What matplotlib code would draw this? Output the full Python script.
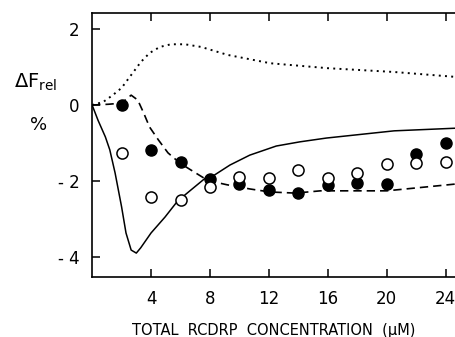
import numpy as np
import matplotlib
matplotlib.use("Agg")
import matplotlib.pyplot as plt

plt.rcParams['font.family'] = ['Liberation Sans Narrow', 'DejaVu Sans']

# measured points (total RCDRP concentration in uM, relative fluorescence change in %)
conc = [2, 4, 6, 8, 10, 12, 14, 16, 18, 20, 22, 24]
filled = [0.0, -1.18, -1.5, -1.95, -2.08, -2.24, -2.32, -2.1, -2.05, -2.08, -1.29, -1.0]
opened = [-1.26, -2.42, -2.5, -2.16, -1.89, -1.92, -1.72, -1.92, -1.79, -1.55, -1.53, -1.5]

# model curves
dot_x = [0, 0.75, 1.4, 2.0, 2.4, 2.9, 3.3, 3.9, 4.6, 5.35, 6.3, 7.4, 9.2, 12.1, 16, 20.5, 24.7]
dot_y = [0, 0.08, 0.26, 0.45, 0.66, 0.92, 1.13, 1.37, 1.53, 1.6, 1.6, 1.53, 1.32, 1.1, 0.97, 0.87, 0.74]

sol_x = [0, 0.4, 0.9, 1.2, 1.56, 2.0, 2.3, 2.65, 3.0, 3.3, 4.0, 4.95, 5.8, 6.7, 7.7, 8.0,
         9.36, 10.7, 12.5, 14.1, 15.9, 20.5, 24.7]
sol_y = [0, -0.4, -0.84, -1.18, -1.79, -2.68, -3.37, -3.82, -3.9, -3.76, -3.37, -2.95, -2.53,
         -2.24, -1.92, -1.92, -1.58, -1.32, -1.08, -0.97, -0.87, -0.68, -0.61]

dash_x = [0, 1.1, 2.0, 2.65, 3.1, 3.5, 3.9, 4.5, 5.15, 5.96, 6.7, 7.7, 8.0, 9.15, 10.7,
          12.07, 13.8, 15.5, 20, 24.7]
dash_y = [0, 0.02, 0.05, 0.26, 0.13, -0.21, -0.58, -0.92, -1.26, -1.53, -1.71, -1.95, -2.0,
          -2.1, -2.21, -2.29, -2.32, -2.26, -2.26, -2.08]

xticks = [4, 8, 12, 16, 20, 24]
yticks = [2, 0, -2, -4]
ytick_labels = ["2", "0", "- 2", "- 4"]

fig = plt.figure(figsize=(4.56, 3.37), dpi=100)
ax = fig.add_axes([0.202, 0.178, 0.798, 0.783])

ax.plot(dot_x, dot_y, color='black', lw=1.4, linestyle=(0, (1, 2.2)))
ax.plot(sol_x, sol_y, color='black', lw=1.1)
ax.plot(dash_x, dash_y, color='black', lw=1.2, linestyle=(0, (5, 3)))
ax.plot(conc, filled, 'o', color='black', ms=8, zorder=3)
ax.plot(conc, opened, 'o', mfc='white', mec='black', mew=1.1, ms=8, zorder=3)

ax.set_xlim(0, 24.7)
ax.set_ylim(-4.53, 2.42)
ax.set_xticks(xticks)
ax.set_yticks(yticks)
ax.set_yticklabels(ytick_labels)
ax.spines['right'].set_visible(False)
for s in ['left', 'top', 'bottom']:
    ax.spines[s].set_linewidth(1.2)
ax.tick_params(axis='both', direction='in', length=6, width=1.1, labelsize=12, pad=9)
ax.tick_params(axis='x', top=True)

ax.set_xlabel(u"TOTAL  RCDRP  CONCENTRATION  (\u03bcM)", fontsize=10.5, labelpad=11)
fig.text(0.03, 0.74, r"$\mathregular{\Delta F_{rel}}$", fontsize=14)
fig.text(0.065, 0.615, "%", fontsize=13)

fig.savefig("out.png", dpi=100)
